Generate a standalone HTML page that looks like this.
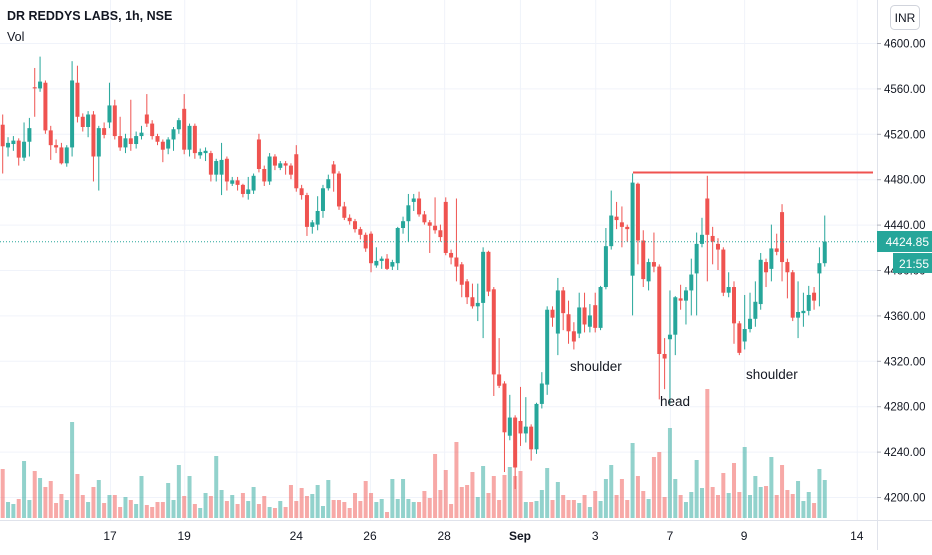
<!DOCTYPE html>
<html><head><meta charset="utf-8">
<style>
html,body{margin:0;padding:0;background:#fff;}
body{width:932px;height:550px;overflow:hidden;font-family:"Liberation Sans",sans-serif;}
svg text{font-family:"Liberation Sans",sans-serif;}
</style></head>
<body>
<svg id="chart" width="932" height="550" viewBox="0 0 932 550" xmlns="http://www.w3.org/2000/svg">
<g id="grid"></g>
<g id="vol"></g>
<g id="candles"></g>
<line x1="633" y1="172.5" x2="873" y2="172.5" stroke="#ef5350" stroke-width="2"/>
<line x1="0" y1="241.8" x2="876" y2="241.8" stroke="#26a69a" stroke-width="1" stroke-dasharray="1,2"/>
<text x="7" y="20" font-size="12.5" font-weight="bold" fill="#131722">DR REDDYS LABS, 1h, NSE</text>
<text x="7" y="41" font-size="12.5" fill="#131722">Vol</text>
<text x="570" y="371" font-size="13.5" fill="#131722">shoulder</text>
<text x="660" y="406" font-size="13.5" fill="#131722">head</text>
<text x="746" y="379" font-size="13.5" fill="#131722">shoulder</text>
<rect x="877" y="0" width="55" height="550" fill="#fff"/>
<line x1="877.5" y1="0" x2="877.5" y2="550" stroke="#e0e3eb"/>
<line x1="0" y1="520.5" x2="932" y2="520.5" stroke="#e0e3eb"/>
<g id="yaxis"></g>
<g id="xaxis"></g>
<rect x="890.5" y="5.5" width="29" height="24" rx="4" fill="#fff" stroke="#d1d4dc"/>
<text x="905" y="22" font-size="12" text-anchor="middle" fill="#131722">INR</text>
<rect x="877" y="231" width="55" height="21" fill="#26a69a"/>
<text x="929" y="246" font-size="12" text-anchor="end" fill="#fff">4424.85</text>
<rect x="893" y="253" width="39" height="20" fill="#26a69a"/>
<text x="929" y="268" font-size="12" text-anchor="end" fill="#fff">21:55</text>
</svg>
<script>
const opens=[4528,4508,4511,4514,4499,4513,4561,4560,4565,4523,4510,4508,4494,4508,4565,4535,4526,4537,4500,4525,4530,4545,4518,4508,4516,4511,4518,4537,4529,4518,4513,4507,4515,4524,4542,4506,4527,4501,4503,4503,4484,4484,4498,4476,4479,4475,4467,4470,4515,4489,4478,4500,4490,4494,4492,4502,4472,4466,
4438,4440,4452,4472,4493,4485,4456,4446,4443,4436,4431,4432,4404,4408,4410,4403,4406,4437,4443,4460,4463,4449,4442,4439,4435,4460,4415,4411,4405,4390,4376,4368,4371,4416,4383,4308,4300,4254,4270,4267,4256,4262,4242,4282,4299,4365,4344,4382,4361,4346,4344,
4367,4350,4369,4349,4385,4421,4447,4442,4438,4395,4476,4426,4390,4407,4403,4326,4339,4343,4375,4373,4382,4397,4423,4463,4430,4423,4418,4380,4385,4353,4337,4348,4357,4370,4407,4401,4419,4451,4407,4398,4358,4362,4364,4380,4397,4406];
const closes=[4509,4512,4514,4499,4513,4525,4560,4566,4523,4510,4508,4494,4508,4567,4535,4526,4537,4500,4525,4519,4545,4518,4508,4516,4511,4518,4521,4529,4518,4513,4506,4515,4524,4532,4506,4527,4503,4504,4505,4484,4496,4497,4478,4479,4475,4467,4471,4483,4489,4478,4500,4492,4494,4492,4484,4472,4466,4438,
4442,4452,4472,4480,4485,4456,4446,4443,4436,4431,4419,4406,4408,4410,4401,4407,4437,4443,4457,4463,4449,4442,4439,4435,4429,4415,4411,4403,4387,4376,4368,4371,4416,4381,4308,4298,4257,4270,4226,4256,4262,4242,4282,4300,4365,4358,4382,4362,4346,4337,4367,
4352,4360,4349,4385,4421,4448,4444,4438,4436,4477,4426,4392,4407,4403,4326,4322,4343,4376,4373,4382,4396,4423,4431,4431,4425,4418,4380,4385,4353,4327,4348,4357,4372,4409,4398,4419,4416,4407,4398,4358,4363,4364,4378,4373,4406,4425];
const highs=[4537,4517,4518,4516,4530,4534,4578,4588,4567,4527,4515,4512,4510,4584,4580,4538,4540,4540,4527,4530,4565,4550,4535,4520,4550,4522,4527,4555,4532,4520,4515,4517,4526,4534,4555,4529,4529,4507,4508,4505,4498,4512,4500,4482,4482,4476,4482,4485,4520,4492,4503,4502,4496,4496,4494,4510,4475,4468,
4444,4465,4475,4484,4496,4487,4460,4449,4445,4438,4433,4434,4420,4412,4414,4409,4438,4447,4467,4467,4469,4452,4444,4464,4440,4464,4418,4463,4407,4392,4388,4388,4420,4417,4385,4340,4302,4290,4272,4297,4288,4264,4283,4310,4368,4368,4393,4385,4373,4354,4380,
4380,4370,4380,4386,4437,4470,4460,4456,4440,4485,4477,4435,4410,4433,4405,4340,4382,4377,4387,4385,4410,4433,4446,4483,4438,4428,4420,4398,4390,4355,4378,4380,4390,4415,4410,4440,4432,4458,4410,4400,4390,4380,4386,4385,4420,4448];
const lows=[4485,4500,4505,4492,4496,4500,4535,4557,4520,4497,4503,4493,4491,4500,4530,4522,4517,4478,4470,4516,4525,4515,4505,4503,4505,4507,4515,4526,4515,4510,4495,4502,4505,4520,4502,4500,4498,4498,4496,4478,4478,4466,4470,4474,4470,4464,4462,4467,4486,4474,4475,4488,4488,4484,4480,4469,4462,4430,
4432,4435,4446,4470,4469,4453,4444,4440,4433,4427,4416,4398,4402,4401,4400,4400,4400,4432,4425,4452,4447,4440,4415,4432,4425,4413,4405,4390,4376,4370,4366,4355,4340,4377,4289,4296,4222,4250,4207,4245,4248,4232,4238,4278,4290,4350,4325,4347,4335,4330,4340,
4345,4345,4345,4347,4383,4418,4436,4420,4425,4360,4405,4385,4382,4398,4286,4295,4282,4325,4365,4352,4360,4360,4420,4390,4405,4400,4377,4376,4335,4325,4330,4345,4350,4365,4385,4390,4413,4390,4375,4355,4340,4350,4360,4365,4368,4403];
const volumes=[49,16,14,19,57,18,47,40,31,37,15,24,18,96,44,23,16,31,38,15,23,23,11,21,18,14,42,13,11,16,16,35,18,53,22,42,14,10,25,22,62,28,17,23,14,25,17,31,14,22,11,10,17,11,33,17,30,22,24,33,12,38,18,18,16,10,25,17,37,25,16,19,6,39,19,39,19,16,16,27,20,64,
28,48,14,76,31,33,46,21,52,25,42,18,43,51,42,47,16,16,17,28,50,18,36,23,18,18,15,23,11,27,17,39,53,23,39,18,75,42,27,19,61,66,21,90,39,23,16,26,58,30,129,31,23,45,25,55,26,71,23,42,31,32,61,23,53,28,24,37,17,26,15,49,38];
const priceTicks=[4600,4560,4520,4480,4440,4400,4360,4320,4280,4240,4200];
const dateLabels=["17","19","24","26","28","Sep","3","7","9","14"];
const dateIndex=[20.1,34,55,68.8,82.7,96.9,111,125,138.9,160];

const NS="http://www.w3.org/2000/svg";
const X0=2.7, STEP=5.338;
function xScale(i){return X0+i*STEP;}
function yScale(p){return 43+(4600-p)*1.135;}
function vScale(v){return 518-v;}
function mk(tag,attrs,parent){const e=document.createElementNS(NS,tag);for(const k in attrs)e.setAttribute(k,attrs[k]);parent.appendChild(e);return e;}

const grid=document.getElementById('grid');
priceTicks.forEach(p=>{
  const l=mk('line',{x1:0,x2:877,y1:yScale(p)+0.5,y2:yScale(p)+0.5,stroke:'#f0f3fa'},grid);
  
  
});
dateIndex.forEach(i=>{
  const l=mk('line',{x1:xScale(i)+0.5,x2:xScale(i)+0.5,y1:0,y2:520,stroke:'#f0f3fa'},grid);
  
  
});

const vg=document.getElementById('vol');
volumes.forEach((v,i)=>{
  const up=closes[i]>=opens[i];
  const r=mk('rect',{x:xScale(i)-2,y:vScale(v),width:4,height:v,fill:up?'rgba(38,166,154,0.5)':'rgba(239,83,80,0.5)'},vg);
  
  
});

const cg=document.getElementById('candles');
opens.forEach((o,i)=>{
  const c=closes[i], up=c>=o, col=up?'#26a69a':'#ef5350';
  const x=xScale(i);
  const g=mk('g',{},cg);
  
  
  mk('line',{x1:x,x2:x,y1:yScale(highs[i]),y2:yScale(lows[i]),stroke:col,'stroke-width':1},g);
  const top=yScale(Math.max(o,c)), bot=yScale(Math.min(o,c));
  mk('rect',{x:x-2,y:top,width:4,height:Math.max(1,bot-top),fill:col},g);
});

const ya=document.getElementById('yaxis');
priceTicks.forEach(p=>{
  const y=yScale(p);
  const t=mk('line',{x1:877,x2:881,y1:y+0.5,y2:y+0.5,stroke:'#b2b5be'},ya);
  
  
  const tx=mk('text',{x:884,y:y+4.5,'font-size':11.5,fill:'#131722'},ya);
  tx.textContent=p.toFixed(2);
  
  
});
const xa=document.getElementById('xaxis');
dateLabels.forEach((d,k)=>{
  const x=xScale(dateIndex[k]);
  const tx=mk('text',{x:x,y:540,'font-size':12,'text-anchor':'middle',fill:'#131722','font-weight':d==='Sep'?'bold':'normal'},xa);
  tx.textContent=d;
  
  
});
</script>
</body></html>
